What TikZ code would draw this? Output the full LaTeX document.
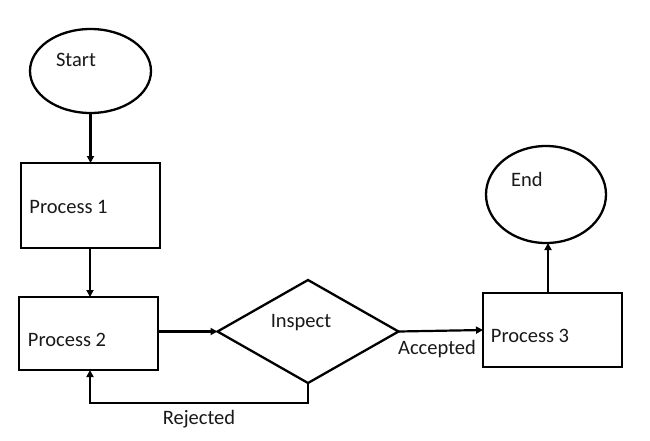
\documentclass[tikz,border=0pt]{standalone}
\usepackage{fontspec}
\setmainfont{Carlito}
\usetikzlibrary{shapes.geometric,arrows.meta,calc}
\begin{document}
\begin{tikzpicture}[x=1pt,y=-1pt,
  shapebox/.style={draw=black,line width=2.3pt,inner sep=0pt,outer sep=0pt},
  procbox/.style={shapebox,rectangle,minimum width=139pt},
  ovalbox/.style={shapebox,ellipse},
  txt/.style={font=\fontsize{20.5}{24}\selectfont,inner sep=0pt,text=black!90},
  conn/.style={line width=2.2pt,-{Triangle[length=7pt,width=7pt]}}]
\useasboundingbox[fill=white] (0,0) rectangle (650,440);
% shapes
\node[ovalbox,minimum width=121pt,minimum height=84pt] (start) at (90.5,71) {};
\node[procbox,minimum height=85pt] (p1) at (90.5,205.5) {};
\node[procbox,minimum height=73pt] (p2) at (88.5,333.5) {};
\node[shapebox,diamond,aspect=1.76,minimum width=181pt,minimum height=103pt] (insp) at (308,331.5) {};
\node[procbox,minimum height=74pt] (p3) at (552.5,330) {};
\node[ovalbox,minimum width=120pt,minimum height=97pt] (end) at (546,194.5) {};
% texts
\node[txt] (tstart) at (76,60) {Start};
\node[txt] (tp1) at (68.5,207) {Process 1};
\node[txt] (tp2) at (67,340) {Process 2};
\node[txt] (tinsp) at (301,323) {Inspect};
\node[txt] (tp3) at (530,336) {Process 3};
\node[txt] (tend) at (527,179) {End};
\node[txt] (tacc) at (437,349) {Accepted};
\node[txt] (trej) at (199,419) {Rejected};
% connectors
\draw[conn] (start.south) -- (p1.north);
\draw[conn] ($(p1.south)+(-0.5,0)$) -- ($(p1.south |- p2.north)+(-0.5,0)$);
\draw[conn] (p2.east |- insp.west) -- (insp.west);
\draw[conn] (insp.east) -- (p3.west);
\draw[conn] ($(p3.north)+(-4.5,0)$) -- ($(end.south)+(2,0)$);
\coordinate (rj) at ($(insp.south)+(0,20)$);
\draw[conn] (insp.south) -- (rj) -| ($(p2.south)+(1.5,0)$);
\end{tikzpicture}
\end{document}
